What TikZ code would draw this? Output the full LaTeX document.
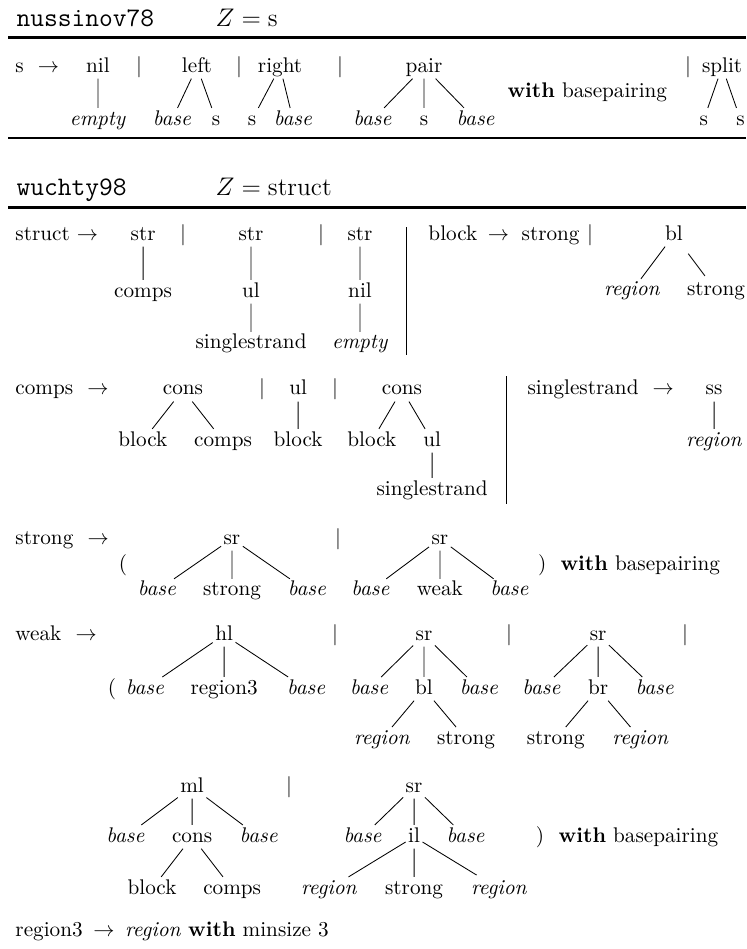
\documentclass[tikz,border=0pt]{standalone}
\usepackage{amsmath}
\usepackage{tikz}
\usetikzlibrary{positioning}

\begin{document}
\begin{tikzpicture}[x=1pt, y=1pt, on grid, thin,
    every node/.style={inner sep=1pt, text height=6.9pt, text depth=1.9pt},
    lhs/.style={anchor=base west},
    alt/.style={anchor=base},
    branch/.style={shorten >=1.7pt},
    hibranch/.style={shorten >=1.7pt, shorten <=4.2pt},
    rulethick/.style={line width=1.5pt},
    rulethin/.style={line width=1.05pt},
    colsep/.style={line width=0.4pt}]
  \useasboundingbox (0,0) rectangle (351.9,-447.6);

  \node[lhs] (nh) at (6.6,-12.7) {\fontsize{12.6pt}{15pt}\selectfont\ttfamily nussinov78};
  \node[lhs] (nz) at (100.5,-12.7) {\large$Z = \mathrm{s}$};
  \draw[rulethick] (3.8,-17.7) -- (351.9,-17.7);

  \node[lhs] (hs) at (6.1,-34) {s~~$\rightarrow$};
  \node[alt] (nil) at (46.2,-34) {nil};
  \node[below=25pt of nil] (emp) {\textit{empty}};
  \node[alt] (o1) at (65.6,-34) {$|$};
  \node[alt] (lf) at (92.9,-34) {left};
  \node[below left=25pt and 11.8pt of lf] (lfb) {\textit{base}};
  \node[below right=25pt and 9pt of lf] (lfs) {s};
  \node[alt] (o2) at (112.7,-34) {$|$};
  \node[alt] (rt) at (132.1,-34) {right};
  \node[below left=25pt and 13.2pt of rt] (rts) {s};
  \node[below right=25pt and 6.1pt of rt] (rtb) {\textit{base}};
  \node[alt] (o3) at (160.4,-34) {$|$};
  \node[alt] (pr) at (200,-34) {pair};
  \node[below left=25pt and 24.3pt of pr] (prb1) {\textit{base}};
  \node[below=25pt of pr] (prs) {s};
  \node[below right=25pt and 24.3pt of pr] (prb2) {\textit{base}};
  \node[lhs] (wbp1) at (238.2,-45.8) {\textbf{with} basepairing};
  \node[alt] (o4) at (324.5,-34) {$|$};
  \node[alt] (spl) at (340.6,-34) {split};
  \node[below left=25pt and 8.7pt of spl] (spl1) {s};
  \node[below right=25pt and 8.7pt of spl] (spl2) {s};
  \draw[rulethin] (3.8,-65.1) -- (351.9,-65.1);

  \node[lhs] (wh) at (6.6,-92) {\fontsize{12.6pt}{15pt}\selectfont\ttfamily wuchty98};
  \node[lhs] (wz) at (100.5,-92) {\large$Z = \mathrm{struct}$};
  \draw[rulethick] (3.8,-97.9) -- (351.9,-97.9);

  \node[lhs] (hstruct) at (6.1,-113.2) {struct $\rightarrow$};
  \node[alt] (str1) at (67.5,-113.2) {str};
  \node[below=26.9pt of str1] (cmp) {comps};
  \node[alt] (o5) at (86.3,-113.2) {$|$};
  \node[alt] (str2) at (118.4,-113.2) {str};
  \node[below=26.9pt of str2] (ul1) {ul};
  \node[below=24.5pt of ul1] (sgl1) {singlestrand};
  \node[alt] (o6) at (151.4,-113.2) {$|$};
  \node[alt] (str3) at (169.8,-113.2) {str};
  \node[below=26.9pt of str3] (nil2) {nil};
  \node[below=24.5pt of nil2] (emp2) {\textit{empty}};
  \draw[colsep] (191.5,-107.1) -- (191.5,-167.5);
  \node[lhs] (hblock) at (200.9,-113.2) {block\enspace$\rightarrow$};
  \node[alt] (stra) at (259.7,-113.2) {strong};
  \node[alt] (o7) at (278.3,-113.2) {$|$};
  \node[alt] (bl1) at (317.9,-113.2) {bl};
  \node[below left=26.4pt and 19.8pt of bl1] (bl1r) {\textit{region}};
  \node[below right=26.4pt and 19.8pt of bl1] (bl1s) {strong};

  \node[lhs] (hcomps) at (6.1,-186.3) {comps~~$\rightarrow$};
  \node[alt] (cons1) at (86.3,-186.3) {cons};
  \node[below left=24.1pt and 18.9pt of cons1] (c1b) {block};
  \node[below right=24.1pt and 18.9pt of cons1] (c1c) {comps};
  \node[alt] (o8) at (123.6,-186.3) {$|$};
  \node[alt] (ul2) at (140.6,-186.3) {ul};
  \node[below=24.1pt of ul2] (ul2b) {block};
  \node[alt] (o9) at (158,-186.3) {$|$};
  \node[alt] (cons2) at (189.6,-186.3) {cons};
  \node[below left=24.1pt and 14.2pt of cons2] (c2b) {block};
  \node[below right=24.1pt and 14.2pt of cons2] (c2u) {ul};
  \node[below=23.1pt of c2u] (c2s) {singlestrand};
  \draw[colsep] (238.7,-177.4) -- (238.7,-237.7);
  \node[lhs] (hsingle) at (247.6,-186.3) {singlestrand~~$\rightarrow$};
  \node[alt] (ss) at (336.8,-186.3) {ss};
  \node[below=24.1pt of ss] (ssr) {\textit{region}};

  \node[lhs] (hstrong) at (6.1,-256.6) {strong~~$\rightarrow$};
  \node[alt] (lp1) at (58,-268.9) {(};
  \node[alt] (sr1) at (109.4,-256.6) {sr};
  \node[below left=24.5pt and 35.4pt of sr1] (s1b1) {\textit{base}};
  \node[below=24.5pt of sr1] (s1s) {strong};
  \node[below right=24.5pt and 35.4pt of sr1] (s1b2) {\textit{base}};
  \node[alt] (o10) at (159.4,-256.6) {$|$};
  \node[alt] (sr2) at (207.5,-256.6) {sr};
  \node[below left=24.5pt and 32.8pt of sr2] (s2b1) {\textit{base}};
  \node[below=24.5pt of sr2] (s2w) {weak};
  \node[below right=24.5pt and 32.8pt of sr2] (s2b2) {\textit{base}};
  \node[alt] (rp1) at (255.7,-268.9) {)};
  \node[lhs] (wbp2) at (263.2,-268.9) {\textbf{with} basepairing};

  \node[lhs] (hweak) at (6.1,-301.9) {weak~~$\rightarrow$};
  \node[alt] (lp2) at (52.8,-327.4) {(};
  \node[alt] (hl) at (105.7,-301.9) {hl};
  \node[below left=25.5pt and 37.3pt of hl] (hlb1) {\textit{base}};
  \node[below=25.5pt of hl] (hlr) {region3};
  \node[below right=25.5pt and 38.7pt of hl] (hlb2) {\textit{base}};
  \node[alt] (o11) at (158,-301.9) {$|$};
  \node[alt] (sr3) at (200,-301.9) {sr};
  \node[below left=25.5pt and 25.9pt of sr3] (s3b1) {\textit{base}};
  \node[below=25.5pt of sr3] (bl2) {bl};
  \node[below right=25.5pt and 25.9pt of sr3] (s3b2) {\textit{base}};
  \node[below left=23.6pt and 19.8pt of bl2] (bl2r) {\textit{region}};
  \node[below right=23.6pt and 19.8pt of bl2] (bl2s) {strong};
  \node[alt] (o12) at (240.1,-301.9) {$|$};
  \node[alt] (sr4) at (282.1,-301.9) {sr};
  \node[below left=25.5pt and 26.7pt of sr4] (s4b1) {\textit{base}};
  \node[below=25.5pt of sr4] (br) {br};
  \node[below right=25.5pt and 26.7pt of sr4] (s4b2) {\textit{base}};
  \node[below left=23.6pt and 20pt of br] (brs) {strong};
  \node[below right=23.6pt and 20pt of br] (brr) {\textit{region}};
  \node[alt] (o13) at (323.1,-301.9) {$|$};

  \node[alt] (ml) at (90.6,-373.6) {ml};
  \node[below left=23.6pt and 31.4pt of ml] (mlb1) {\textit{base}};
  \node[below=23.6pt of ml] (mlc) {cons};
  \node[below right=23.6pt and 31.4pt of ml] (mlb2) {\textit{base}};
  \node[below left=24.5pt and 18.9pt of mlc] (mlcb) {block};
  \node[below right=24.5pt and 18.9pt of mlc] (mlcc) {comps};
  \node[alt] (o14) at (136.3,-373.6) {$|$};
  \node[alt] (sr5) at (195.3,-373.6) {sr};
  \node[below left=23.6pt and 24.3pt of sr5] (s5b1) {\textit{base}};
  \node[below=23.6pt of sr5] (il) {il};
  \node[below right=23.6pt and 24.3pt of sr5] (s5b2) {\textit{base}};
  \node[below left=24.5pt and 40.1pt of il] (ilr1) {\textit{region}};
  \node[below=24.5pt of il] (ils) {strong};
  \node[below right=24.5pt and 40.1pt of il] (ilr2) {\textit{region}};
  \node[alt] (rp2) at (254.7,-397.2) {)};
  \node[lhs] (wbp3) at (262.3,-397.2) {\textbf{with} basepairing};

  \node[lhs] (hreg3) at (6.1,-441.5) {region3~\,$\rightarrow$~\,\textit{region} \textbf{with} minsize 3};

  \draw[hibranch] (nil) -- (emp) (lf) -- (lfb) (lf) -- (lfs) (rt) -- (rts) (rt) -- (rtb)
    (pr) -- (prb1) (pr) -- (prs) (pr) -- (prb2) (spl) -- (spl1) (spl) -- (spl2)
    (str1) -- (cmp) (str2) -- (ul1) (str3) -- (nil2) (bl1) -- (bl1r) (bl1) -- (bl1s);
  \draw[branch] (ul1) -- (sgl1) (nil2) -- (emp2)
    (cons1) -- (c1b) (cons1) -- (c1c) (ul2) -- (ul2b) (cons2) -- (c2b) (cons2) -- (c2u)
    (c2u) -- (c2s) (ss) -- (ssr)
    (sr1) -- (s1b1) (sr1) -- (s1s) (sr1) -- (s1b2) (sr2) -- (s2b1) (sr2) -- (s2w) (sr2) -- (s2b2)
    (hl) -- (hlb1) (hl) -- (hlr) (hl) -- (hlb2)
    (sr3) -- (s3b1) (sr3) -- (bl2) (sr3) -- (s3b2) (bl2) -- (bl2r) (bl2) -- (bl2s)
    (sr4) -- (s4b1) (sr4) -- (br) (sr4) -- (s4b2) (br) -- (brs) (br) -- (brr)
    (ml) -- (mlb1) (ml) -- (mlc) (ml) -- (mlb2) (mlc) -- (mlcb) (mlc) -- (mlcc)
    (sr5) -- (s5b1) (sr5) -- (il) (sr5) -- (s5b2) (il) -- (ilr1) (il) -- (ils) (il) -- (ilr2);
\end{tikzpicture}
\end{document}
